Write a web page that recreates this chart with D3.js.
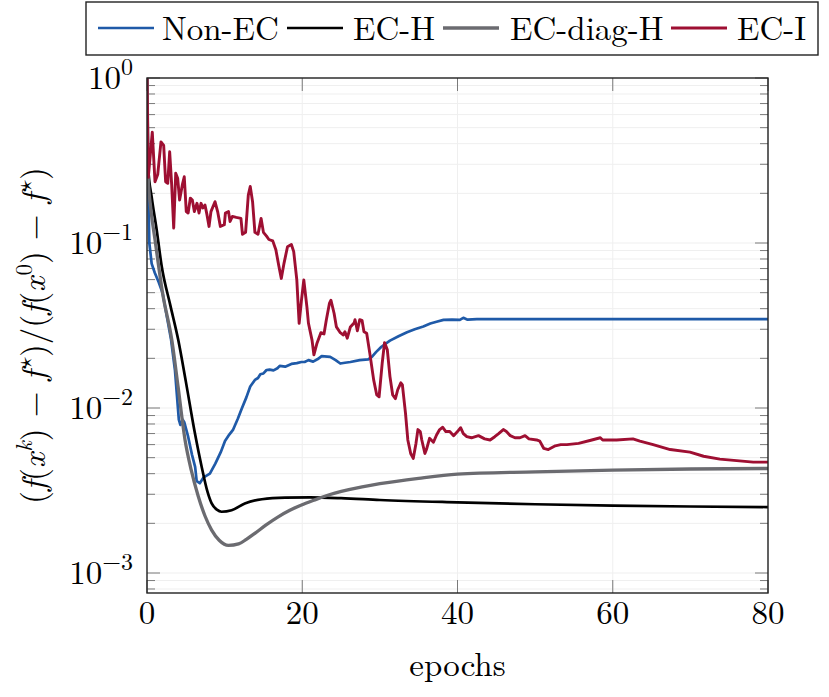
<!DOCTYPE html>
<html><head><meta charset="utf-8">
<script src="https://cdn.jsdelivr.net/npm/d3@7"></script>
<style>body{margin:0;background:#fff}</style>
</head><body><svg id="c" width="829" height="697" font-family="'Latin Modern Roman', 'Liberation Serif', serif"></svg>
<script>
const seriesNames = ["Non-EC","EC-H","EC-diag-H","EC-I"];
const seriesColors = ["#1f5aa8","#000000","#6b6b70","#9e0f32"];

const nonEC_x = [0,0.1,0.3,0.6,1,1.5,2,2.6,3.1,3.6,4.1,4.3,4.6,4.8,5.3,5.8,6.2,6.4,6.8,7.3,8.1,8.8,9.5,10.05,10.6,11.1,11.7,12.2,12.8,13.3,13.9,14.3,14.6,15.0,15.4,15.8,16.3,16.8,17.1,17.8,18.6,19.3,19.9,20.3,20.8,21.4,22.0,22.5,23.6,24.3,24.9,25.5,26.2,27.4,28.5,29.0,29.5,30.2,31.3,32.4,33.5,34.5,35.6,36.5,37.3,38.2,39.3,40.3,40.75,41.3,42.5,80];
const nonEC_y = [1,0.3,0.1,0.075,0.066,0.058,0.05,0.035,0.026,0.017,0.0085,0.0079,0.0085,0.0082,0.0067,0.0052,0.0044,0.0036,0.0035,0.0038,0.004,0.0046,0.0054,0.0063,0.0069,0.0074,0.0086,0.0099,0.0116,0.0135,0.0148,0.0152,0.016,0.0162,0.017,0.0171,0.0169,0.0174,0.018,0.0178,0.0185,0.0187,0.019,0.019,0.0195,0.0191,0.0198,0.0206,0.0204,0.0195,0.0186,0.0188,0.019,0.0195,0.0197,0.0205,0.0218,0.0235,0.0256,0.0272,0.0288,0.03,0.0312,0.0325,0.0333,0.0342,0.0343,0.0342,0.0352,0.0343,0.0346,0.0346];

const ecH_x = [0,0.17,0.6,1.25,1.9,3,4.03,5,6.18,7,7.8,8.33,9,9.6,10.9,12.6,14.8,17.8,21,25,30,40,50,60,70,80];
const ecH_y = [1,0.28,0.19,0.12,0.072,0.042,0.0258,0.0145,0.007,0.0045,0.0031,0.00264,0.00242,0.00235,0.0024,0.00264,0.0028,0.00286,0.00287,0.00284,0.00277,0.00268,0.00261,0.00256,0.00253,0.00251];

const ecDiag_x = [0,0.15,0.5,1.03,2,3.2,4,4.9,5.7,6.6,7.5,8.33,9.3,10.5,11.8,12.8,13.9,15.3,16.9,18.4,19.9,21.5,22.9,26,30,35,40,50,60,70,80];
const ecDiag_y = [1,0.25,0.16,0.105,0.05,0.0258,0.0135,0.0064,0.0042,0.00292,0.0022,0.00182,0.00158,0.00147,0.0015,0.0016,0.00174,0.00195,0.00219,0.0024,0.00258,0.00276,0.00292,0.0032,0.00348,0.00375,0.00397,0.0041,0.0042,0.00427,0.0043];

const ecI_x = [0,0.17,0.68,1.03,1.38,1.8,2.15,2.4,2.67,2.92,3.18,3.44,3.7,3.95,4.2,4.55,4.8,5.06,5.3,5.58,5.84,6.1,6.44,6.7,6.96,7.2,7.47,7.73,7.99,8.24,8.76,9.1,9.45,9.96,10.1,10.5,10.7,11.0,11.5,12.1,12.3,12.7,13.05,13.3,13.6,13.9,14.3,14.7,15.0,15.4,15.7,16.2,16.6,16.96,17.3,17.65,18.1,18.6,18.9,19.3,19.6,19.9,20.2,20.6,20.8,21.26,21.5,21.9,22.4,22.8,23.1,23.5,23.7,24.1,24.4,24.9,25.3,25.5,25.8,26.2,26.7,26.8,27.1,27.4,27.7,27.95,28.3,28.7,29.2,29.6,29.9,30.3,30.6,30.96,31.3,31.65,32.0,32.3,32.7,32.9,33.3,33.6,33.97,34.3,34.65,34.9,35.2,35.4,35.8,36.0,36.4,36.9,37.3,37.7,38.1,38.5,39.0,39.5,40.0,40.4,40.75,41.2,41.8,42.7,43.5,44.2,44.8,45.3,45.9,46.3,46.8,47.4,48.05,48.7,49.2,50.2,50.6,51.1,51.7,52.6,53.3,54.1,55.6,57.3,58.4,58.7,60.5,62.6,63.5,65.2,67.4,69.95,71.7,73.8,75.96,78.1,80];
const ecI_y = [1,0.25,0.47,0.235,0.26,0.41,0.39,0.235,0.23,0.357,0.225,0.123,0.265,0.247,0.182,0.225,0.252,0.155,0.152,0.187,0.182,0.155,0.174,0.152,0.174,0.163,0.17,0.148,0.126,0.155,0.178,0.155,0.126,0.129,0.152,0.155,0.135,0.145,0.143,0.141,0.113,0.116,0.195,0.22,0.178,0.116,0.113,0.141,0.116,0.11,0.105,0.103,0.091,0.0736,0.061,0.0753,0.095,0.098,0.0886,0.0597,0.0326,0.045,0.0597,0.041,0.0326,0.0258,0.021,0.0247,0.0286,0.0281,0.0341,0.043,0.045,0.0375,0.031,0.0286,0.0277,0.029,0.0265,0.031,0.0329,0.0343,0.0294,0.0343,0.034,0.029,0.0284,0.0215,0.0148,0.012,0.0117,0.0187,0.0249,0.0225,0.0155,0.012,0.0114,0.0129,0.0142,0.0138,0.0093,0.0064,0.0053,0.00495,0.0061,0.0074,0.0072,0.0064,0.0053,0.0056,0.00655,0.0062,0.00686,0.0074,0.00764,0.0072,0.0072,0.0068,0.0072,0.0076,0.007,0.0067,0.0066,0.0068,0.0065,0.0064,0.0067,0.007,0.0074,0.0072,0.0068,0.0066,0.0066,0.0068,0.0065,0.0064,0.0063,0.0057,0.0056,0.0059,0.006,0.006,0.0061,0.0064,0.0066,0.0064,0.0064,0.0065,0.0063,0.006,0.0056,0.0054,0.0051,0.0049,0.0048,0.0047,0.0047];

const xTicks = [0,20,40,60,80];
const yTickExps = [0,-1,-2,-3];
const xLabel = "epochs";

const svg = d3.select("#c");
const L=147, R=768, T=78, B=593;
const x = d3.scaleLinear().domain([0,80]).range([L,R]);
const y = d3.scaleLog().domain([Math.pow(10,-3-20/165),1]).range([B,T]);

// grid
const yAll = [];
for (let e=-4;e<=0;e++) for (let m=1;m<=9;m++){const v=m*Math.pow(10,e); if(v>=y.domain()[0]&&v<=1) yAll.push(v);}
const isMajor = v => Math.abs(Math.log10(v)-Math.round(Math.log10(v)))<1e-9;
const g = svg.append("g");
g.selectAll("line.gy").data(yAll).enter().append("line")
 .attr("x1",L).attr("x2",R).attr("y1",d=>y(d)).attr("y2",d=>y(d))
 .attr("stroke","#efefef").attr("stroke-width",1);
g.selectAll("line.gx").data(xTicks).enter().append("line")
 .attr("x1",d=>x(d)).attr("x2",d=>x(d)).attr("y1",T).attr("y2",B)
 .attr("stroke","#efefef").attr("stroke-width",1);

// ticks
const tk = svg.append("g").attr("stroke","#7a7a7a").attr("stroke-width",1);
yAll.forEach(v=>{
  const len = isMajor(v)?13:8;
  tk.append("line").attr("x1",L).attr("x2",L+len).attr("y1",y(v)).attr("y2",y(v));
  tk.append("line").attr("x1",R).attr("x2",R-len).attr("y1",y(v)).attr("y2",y(v));
});
xTicks.forEach(v=>{
  tk.append("line").attr("x1",x(v)).attr("x2",x(v)).attr("y1",B).attr("y2",B-13);
  tk.append("line").attr("x1",x(v)).attr("x2",x(v)).attr("y1",T).attr("y2",T+13);
});

// lines
svg.append("defs").append("clipPath").attr("id","clip").append("rect")
 .attr("x",L).attr("y",T).attr("width",R-L).attr("height",B-T);
const series = [[nonEC_x,nonEC_y],[ecH_x,ecH_y],[ecDiag_x,ecDiag_y],[ecI_x,ecI_y]];
const widths = [2.7,2.7,3.3,2.9];
const curves = [d3.curveLinear,d3.curveMonotoneX,d3.curveMonotoneX,d3.curveLinear];
const lg = svg.append("g").attr("clip-path","url(#clip)");
series.forEach((s,i)=>{
  const pts = s[0].map((xv,j)=>[xv,s[1][j]]);
  lg.append("path").attr("d",d3.line().x(d=>x(d[0])).y(d=>y(d[1])).curve(curves[i])(pts))
   .attr("fill","none").attr("stroke",seriesColors[i]).attr("stroke-width",widths[i])
   .attr("stroke-linejoin","round");
});

// frame
svg.append("rect").attr("x",L).attr("y",T).attr("width",R-L).attr("height",B-T)
 .attr("fill","none").attr("stroke","#222").attr("stroke-width",1.4);

// x tick labels
svg.selectAll("text.xt").data(xTicks).enter().append("text")
 .attr("x",d=>x(d)).attr("y",624).attr("text-anchor","middle").attr("font-size",33).text(d=>d);
svg.append("text").attr("x",(L+R)/2).attr("y",676).attr("text-anchor","middle").attr("font-size",33).text(xLabel);

// y tick labels
yTickExps.forEach(e=>{
  const t = svg.append("text").attr("x",133).attr("y",y(Math.pow(10,e))+11).attr("text-anchor","end").attr("font-size",33);
  t.append("tspan").text("10");
  t.append("tspan").attr("dy",-14).attr("font-size",24).text(e===0?"0":"\u2212"+(-e));
});

// y label
const yl = svg.append("text").attr("transform","translate(45,"+((T+B)/2)+") rotate(-90)")
 .attr("text-anchor","middle").attr("font-size",33);
const parts = [["(",0],["f",1],["(",0],["x",1],["k",2],[") \u2212 ",3],["f",1],["\u22c6",2],[")/(",3],["f",1],["(",0],["x",1],["0",2],[") \u2212 ",3],["f",1],["\u22c6",2],[")",3]];
parts.forEach(p=>{
  const ts = yl.append("tspan").text(p[0]);
  if(p[1]===1) ts.attr("font-style","italic");
  if(p[1]===2) {
    ts.attr("dy",-13).attr("font-size",23).attr("dx",p[0]==="\u22c6"?2:1);
    if(p[0]==="k") ts.attr("font-style","italic");
    if(p[0]==="\u22c6") ts.attr("font-family","'Latin Modern Math','DejaVu Sans',sans-serif");
  }
  if(p[1]===3) ts.attr("dy",13);
});

// legend
const leg = svg.append("g");
leg.append("rect").attr("x",86).attr("y",2).attr("width",732).attr("height",53)
 .attr("fill","#fff").attr("stroke","#222").attr("stroke-width",1.4);
const legLineX = [98,287,443,671];
const legTextX = [162,353,510,737];
seriesNames.forEach((n,i)=>{
  leg.append("line").attr("x1",legLineX[i]).attr("x2",legLineX[i]+56).attr("y1",28).attr("y2",28)
   .attr("stroke",seriesColors[i]).attr("stroke-width",widths[i]);
  leg.append("text").attr("x",legTextX[i]).attr("y",40).attr("font-size",33).text(n);
});
</script></body></html>
